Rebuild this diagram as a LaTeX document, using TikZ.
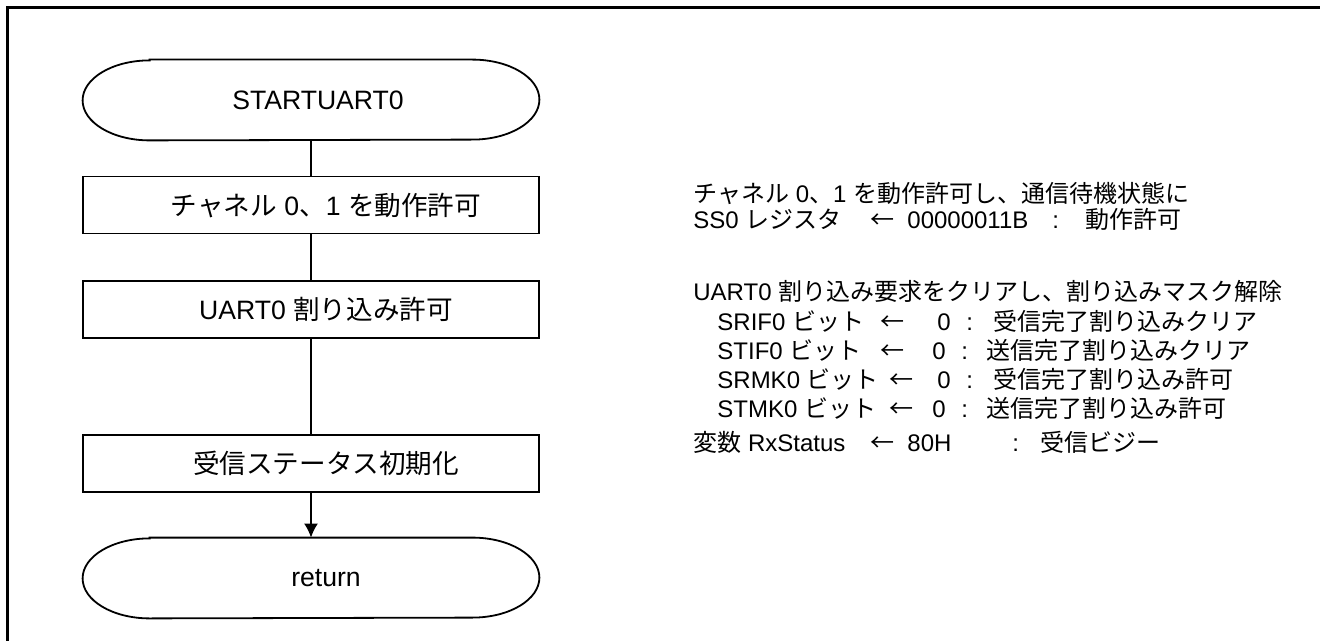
\documentclass[tikz,border=0pt]{standalone}
\usepackage{fontspec}
\setmainfont{Liberation Sans}
\newfontfamily\jp{Noto Sans CJK JP}
\usetikzlibrary{arrows.meta}
\newcommand\flowfont{\fontsize{13.3pt}{15pt}\selectfont}
\newcommand\notefont{\fontsize{12pt}{14pt}\selectfont}
% terminal outline around a named node
\newcommand\termline[1]{%
  \draw[line width=0.9pt] ([xshift=33.5pt]#1.north west) -- ([xshift=-33.5pt]#1.north east)
    arc[start angle=90,end angle=-90,x radius=33.5pt,y radius=20pt]
    -- ([xshift=33.5pt]#1.south west)
    arc[start angle=270,end angle=90,x radius=33.5pt,y radius=20pt] -- cycle;}
\begin{document}
\begin{tikzpicture}[x=0.5pt,y=-0.5pt,>={Latex[length=7pt,width=7pt]},
  procbox/.style={draw,line width=0.9pt,minimum width=228pt,minimum height=28.5pt,inner sep=0pt},
  termbox/.style={minimum width=228pt,minimum height=40pt,inner sep=0pt},
  boxtext/.style={font=\flowfont,inner sep=0pt,xshift=7.5pt},
  note/.style={anchor=base west,inner sep=0pt,font=\notefont},
  link/.style={line width=0.9pt}]
\useasboundingbox (0,0) rectangle (1320,641);
% frame
\draw[line width=1.5pt] (7.5,641) -- (7.5,7.5) -- (1320,7.5);
%% flowchart
\node[termbox,label={[boxtext,xshift=-4pt]center:STARTUART0}] (start) at (311,100) {};
\termline{start}
\node[procbox,label={[boxtext]center:{\jp チャネル} 0{\jp 、}1 {\jp を動作許可}}] (chan) at (311,205) {};
\node[procbox,label={[boxtext]center:UART0 {\jp 割り込み許可}}] (intr) at (311,309.5) {};
\node[procbox,label={[boxtext]center:{\jp 受信ステータス初期化}}] (rxinit) at (311,463.5) {};
\node[termbox,label={[boxtext]center:return}] (ret) at (311,578) {};
\termline{ret}
% Edge: start -> chan
\draw[link] (start.south) -- (chan.north);
% Edge: chan -> intr
\draw[link] (chan.south) -- (intr.north);
% Edge: intr -> rxinit
\draw[link] (intr.south) -- (rxinit.north);
% Edge: rxinit -> ret
\draw[link,->] (rxinit.south) -- (ret.north);
%% notes
\node[note] (n1) at (693,203) {{\jp チャネル} 0{\jp 、}1 {\jp を動作許可し、通信待機状態に}};
\node[note] (n2) at (693,229) {SS0 {\jp レジスタ}};
\node[note] (n2a) at (870,229) {{\jp ←}};
\node[note] (n2b) at (907,229) {00000011B};
\node[note] (n2c) at (1052,229) {:};
\node[note] (n2d) at (1085,229) {{\jp 動作許可}};
\node[note] (n3) at (693,300) {UART0 {\jp 割り込み要求をクリアし、割り込みマスク解除}};
\node[note] (n4) at (717,330) {SRIF0 {\jp ビット}};
\node[note] (n4a) at (880,330) {{\jp ←}};
\node[note] (n4b) at (937,330) {0};
\node[note] (n4c) at (966,330) {:};
\node[note] (n4d) at (993,330) {{\jp 受信完了割り込みクリア}};
\node[note] (n5) at (717,359) {STIF0 {\jp ビット}};
\node[note] (n5a) at (880,359) {{\jp ←}};
\node[note] (n5b) at (932,359) {0};
\node[note] (n5c) at (961,359) {:};
\node[note] (n5d) at (986,359) {{\jp 送信完了割り込みクリア}};
\node[note] (n6) at (717,388) {SRMK0 {\jp ビット}};
\node[note] (n6a) at (889,388) {{\jp ←}};
\node[note] (n6b) at (937,388) {0};
\node[note] (n6c) at (966,388) {:};
\node[note] (n6d) at (993,388) {{\jp 受信完了割り込み許可}};
\node[note] (n7) at (717,417) {STMK0 {\jp ビット}};
\node[note] (n7a) at (889,417) {{\jp ←}};
\node[note] (n7b) at (932,417) {0};
\node[note] (n7c) at (961,417) {:};
\node[note] (n7d) at (986,417) {{\jp 送信完了割り込み許可}};
\node[note] (n8) at (693,451) {{\jp 変数} RxStatus};
\node[note] (n8a) at (870,451) {{\jp ←}};
\node[note] (n8b) at (907,451) {80H};
\node[note] (n8c) at (1012,451) {:};
\node[note] (n8d) at (1040,451) {{\jp 受信ビジー}};
\end{tikzpicture}
\end{document}
